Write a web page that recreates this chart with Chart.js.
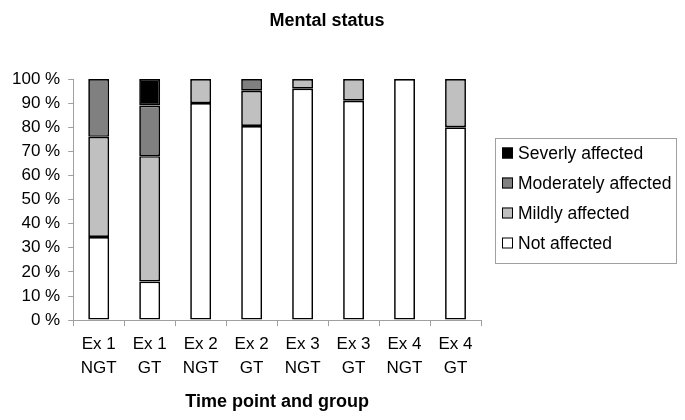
<!DOCTYPE html>
<html>
<head>
<meta charset="utf-8">
<script src="https://cdn.jsdelivr.net/npm/chart.js@4/dist/chart.umd.min.js"></script>
<style>
  html, body { margin: 0; padding: 0; background: #fff; }
  #wrap { width: 685px; height: 420px; }
</style>
</head>
<body>
<div id="wrap"><canvas id="chartColumn" width="685" height="420"></canvas></div>
<script>
const labels = [
    ["Ex 1", "NGT"], ["Ex 1", "GT"], ["Ex 2", "NGT"], ["Ex 2", "GT"],
    ["Ex 3", "NGT"], ["Ex 3", "GT"], ["Ex 4", "NGT"], ["Ex 4", "GT"],
];

const notAffected = [34.5, 16, 90, 80.5, 96, 91, 100, 80];
const mildly = [41.5, 52, 10, 14.6, 4, 9, 0, 20];
const moderately = [24, 21, 0, 4.9, 0, 0, 0, 0];
const severely = [0, 11, 0, 0, 0, 0, 0, 0];

const yTicks = [0, 10, 20, 30, 40, 50, 60, 70, 80, 90, 100];

const font = "'Liberation Sans', Arial, sans-serif";

// title + framed legend, drawn by hand
const extras = {
    id: "extras",
    afterDraw(chart) {
        const ctx = chart.ctx;
        ctx.save();
        ctx.fillStyle = "#000";
        ctx.font = "bold 18px " + font;
        ctx.textAlign = "center";
        ctx.textBaseline = "middle";
        ctx.fillText("Mental status", 327, 21);

        const x = chart.chartArea.right + 14;
        const y = 138;
        ctx.strokeStyle = "#a0a0a0";
        ctx.lineWidth = 1;
        ctx.strokeRect(x + 0.5, y + 0.5, 181, 125);

        ctx.font = "17.5px " + font;
        ctx.textAlign = "left";
        const items = chart.data.datasets.slice().reverse();
        items.forEach((ds, i) => {
            const cy = y + 15 + i * 30;
            ctx.fillStyle = ds.backgroundColor;
            ctx.fillRect(x + 7, cy - 5.5, 11, 11);
            ctx.strokeStyle = "#000";
            ctx.strokeRect(x + 7.5, cy - 5, 10, 10);
            ctx.fillStyle = "#000";
            ctx.fillText(ds.label, x + 23, cy + 1);
        });
        ctx.restore();
    },
};

function series(label, values, color) {
    return {
        label: label,
        data: values.map(v => v || null),
        backgroundColor: color,
        borderColor: "#000",
        borderWidth: 1.7,
        borderSkipped: false,
        categoryPercentage: 1,
        barPercentage: 0.41,
    };
}

const data = {
    labels: labels,
    datasets: [
        series("Not affected", notAffected, "#ffffff"),
        series("Mildly affected", mildly, "#c0c0c0"),
        series("Moderately affected", moderately, "#808080"),
        series("Severly affected", severely, "#000000"),
    ],
};

const config = {
    type: "bar",
    data: data,
    plugins: [extras],
    options: {
        responsive: false,
        animation: false,
        layout: { padding: { top: 79, right: 204, left: 4, bottom: 7 } },
        plugins: {
            title: { display: false },
            legend: { display: false },
            tooltip: { enabled: false },
        },
        scales: {
            x: {
                stacked: true,
                grid: {
                    offset: true,
                    drawOnChartArea: false,
                    drawTicks: true,
                    tickLength: 6,
                    color: "#a0a0a0",
                },
                border: { color: "#a0a0a0" },
                ticks: {
                    color: "#000",
                    font: { family: font, size: 17, lineHeight: 1.42 },
                    maxRotation: 0,
                    padding: 6,
                },
                title: {
                    display: true,
                    text: "Time point and group",
                    color: "#000",
                    font: { family: font, size: 18, weight: "bold" },
                    padding: { top: 5, bottom: 0 },
                },
            },
            y: {
                stacked: true,
                min: 0,
                max: 100,
                afterBuildTicks(axis) {
                    axis.ticks = yTicks.map(v => ({ value: v }));
                },
                grid: {
                    drawOnChartArea: false,
                    drawTicks: true,
                    tickLength: 5,
                    color: "#a0a0a0",
                },
                border: { color: "#a0a0a0" },
                ticks: {
                    color: "#000",
                    font: { family: font, size: 17 },
                    padding: 8,
                    callback: v => v + " %",
                },
            },
        },
    },
};

new Chart(document.getElementById("chartColumn"), config);
</script>
</body>
</html>
